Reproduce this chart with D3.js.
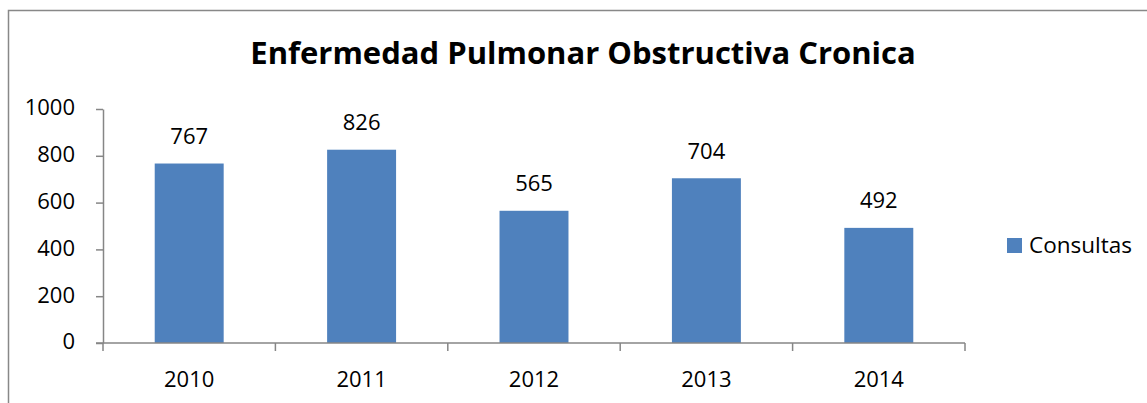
<!DOCTYPE html>
<html>
<head>
<meta charset="utf-8">
<script src="https://cdn.jsdelivr.net/npm/d3@7"></script>
<style>
  body { margin: 0; background: #fff; }
  text { font-family: "Open Sans", "Noto Sans", sans-serif; fill: #000; }
</style>
</head>
<body>
<svg id="chart" width="1147" height="403"></svg>
<script>
const years = ["2010", "2011", "2012", "2013", "2014"];
const consultas = [767, 826, 565, 704, 492];
const yTicks = [0, 200, 400, 600, 800, 1000];
const seriesName = "Consultas";
const chartTitle = "Enfermedad Pulmonar Obstructiva Cronica";

const svg = d3.select("#chart");
const barColor = "#4f81bd";
const axisColor = "#868686";
const labelSize = "22px";

// outer frame
svg.append("rect")
    .attr("x", 8.5).attr("y", 10.5)
    .attr("width", 1160).attr("height", 420)
    .attr("fill", "none")
    .attr("stroke", "#888")
    .attr("stroke-width", 1.5);

const x = d3.scaleBand().domain(years).range([103, 965]).paddingInner(0.6).paddingOuter(0.3);
const xBound = d3.scaleLinear().domain([0, years.length]).range([103, 965]);
const y = d3.scaleLinear().domain([0, 1000]).range([343, 109]);

svg.append("text")
    .attr("x", 583).attr("y", 64)
    .attr("text-anchor", "middle")
    .style("font-size", "31px")
    .style("font-weight", "bold")
    .text(chartTitle);

// y axis
const yAxis = svg.append("g")
    .attr("transform", "translate(103,0)")
    .call(d3.axisLeft(y).tickValues(yTicks).tickFormat(d3.format("d"))
        .tickSize(7).tickPadding(21).tickSizeOuter(0));
yAxis.select(".domain").attr("stroke", axisColor).attr("stroke-width", 1.5);
yAxis.selectAll(".tick line").attr("stroke", axisColor).attr("stroke-width", 1.5);
yAxis.selectAll(".tick text")
    .attr("dy", "0.27em")
    .style("font-size", labelSize)
    .style("font-family", "'Open Sans', sans-serif")
    .attr("fill", "#000");

// bars
svg.append("g").selectAll("rect")
    .data(consultas)
    .enter().append("rect")
    .attr("x", (d, i) => x(years[i]))
    .attr("y", d => y(d))
    .attr("width", x.bandwidth())
    .attr("height", d => y(0) - y(d))
    .attr("fill", barColor);

// x axis line and boundary ticks
const xg = svg.append("g");
xg.append("line")
    .attr("x1", 96).attr("x2", xBound(years.length))
    .attr("y1", y(0)).attr("y2", y(0))
    .attr("stroke", axisColor).attr("stroke-width", 1.5);
xg.selectAll("line.tk")
    .data(d3.range(years.length + 1))
    .enter().append("line")
    .attr("class", "tk")
    .attr("x1", d => xBound(d)).attr("x2", d => xBound(d))
    .attr("y1", y(0)).attr("y2", y(0) + 8)
    .attr("stroke", axisColor).attr("stroke-width", 1.5);
xg.selectAll("text")
    .data(years)
    .enter().append("text")
    .attr("x", d => x(d) + x.bandwidth() / 2)
    .attr("y", 387)
    .attr("text-anchor", "middle")
    .style("font-size", labelSize)
    .text(d => d);

// value labels
svg.append("g").selectAll("text")
    .data(consultas)
    .enter().append("text")
    .attr("x", (d, i) => x(years[i]) + x.bandwidth() / 2)
    .attr("y", d => y(d) - 19.5)
    .attr("text-anchor", "middle")
    .style("font-size", labelSize)
    .text(d => d);

// legend
const legend = svg.append("g").attr("transform", "translate(1007,238)");
legend.append("rect")
    .attr("width", 15).attr("height", 15)
    .attr("fill", barColor);
legend.append("text")
    .attr("x", 22).attr("y", 15)
    .style("font-size", "22.5px")
    .text(seriesName);
</script>
</body>
</html>
